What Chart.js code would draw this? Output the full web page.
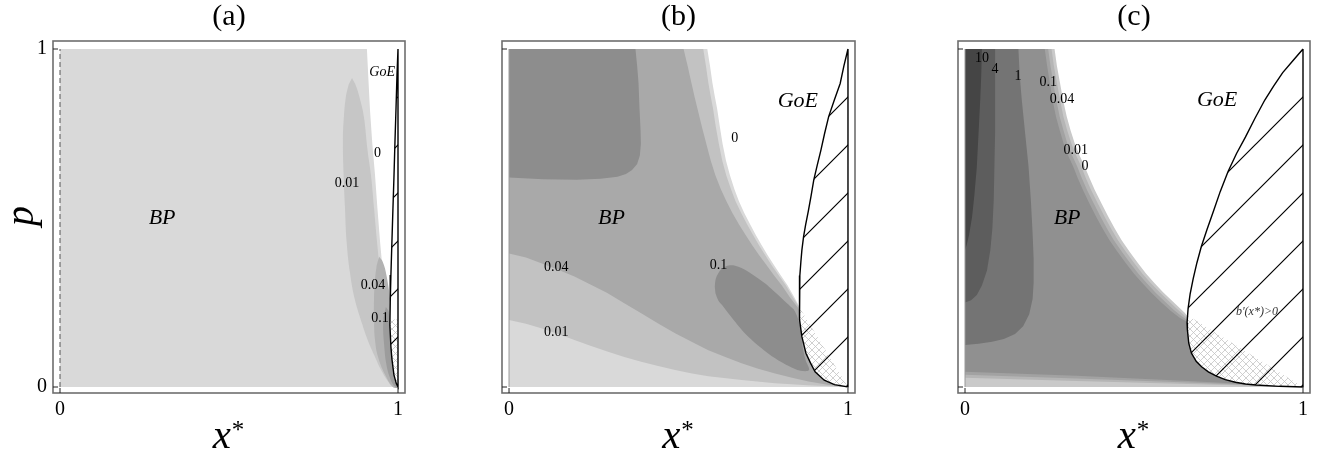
<!DOCTYPE html>
<html><head><meta charset="utf-8">
<script src="https://cdn.jsdelivr.net/npm/chart.js@4.4.0/dist/chart.umd.min.js"></script>
<style>
html,body{margin:0;padding:0;background:#fff;}
body{width:1323px;height:457px;position:relative;overflow:hidden;}
canvas{position:absolute;top:0;}
</style></head><body>
<canvas id="pa" width="441" height="457" style="left:0px"></canvas>
<canvas id="pb" width="441" height="457" style="left:441px"></canvas>
<canvas id="pc" width="441" height="457" style="left:882px"></canvas>
<script>
// ---------------- shared axis data ----------------
const TICK_VALUES = [0, 1];
const TICK_LABELS = ['0', '1'];
const PANEL_TITLES = ['(a)', '(b)', '(c)'];

// ---------------- panel (a) ----------------
const aEdge0 = [[0.908,1],[0.912,0.92],[0.917,0.822],[0.924,0.72],[0.932,0.627],[0.939,0.53],[0.947,0.429],[0.956,0.33],[0.967,0.231],[0.974,0.17],[0.982,0.109],[0.994,0.036],[1,0]];
const aEllipse001 = [[0.864,0.914],[0.876,0.89],[0.888,0.85],[0.899,0.80],[0.910,0.70],[0.920,0.627],[0.929,0.53],[0.938,0.429],[0.948,0.33],[0.959,0.231],[0.976,0.109],[0.994,0.021],[0.998,0.004],[0.985,0.0],[0.968,0.02],[0.950,0.05],[0.932,0.089],[0.91,0.14],[0.893,0.189],[0.872,0.26],[0.858,0.337],[0.848,0.43],[0.843,0.533],[0.839,0.63],[0.837,0.731],[0.840,0.80],[0.846,0.86],[0.854,0.895]];
const aEllipse004 = [[0.944,0.385],[0.955,0.37],[0.966,0.33],[0.978,0.25],[0.988,0.16],[0.996,0.06],[1,0],[0.985,0.0],[0.962,0.036],[0.941,0.089],[0.932,0.139],[0.929,0.2],[0.929,0.257],[0.932,0.32],[0.937,0.36]];
const aEllipse01 = [[0.964,0.237],[0.972,0.225],[0.98,0.19],[0.99,0.12],[1,0],[0.988,0.004],[0.975,0.03],[0.965,0.07],[0.959,0.124],[0.956,0.17],[0.957,0.205]];
const aGoE = [[1,1],[0.997,0.923],[0.994,0.82],[0.991,0.725],[0.988,0.62],[0.985,0.527],[0.982,0.43],[0.979,0.331],[0.977,0.25],[0.976,0.183],[0.979,0.12],[0.982,0.083],[0.988,0.036],[0.995,0.01],[1,0],[1,1]];
const aCross = [[0.977,0.2],[0.976,0.183],[0.979,0.12],[0.982,0.083],[0.988,0.036],[0.995,0.01],[1,0],[1,0.2]];
const aColors = ['#d9d9d9','#c6c6c6','#b2b2b2','#9c9c9c'];
const aLabelText = ['GoE','0','0.01','0.04','0.1','BP'];
const aLabelX = [0.953,0.939,0.849,0.926,0.947,0.302];
const aLabelY = [0.932,0.692,0.604,0.302,0.204,0.5];
const aLabelSize = [14,14,14,14,14,22];
const aLabelItalic = [1,0,0,0,0,1];

// ---------------- panel (b) ----------------
const bEdge0 = [[0.585,1],[0.593,0.95],[0.600,0.9],[0.607,0.86],[0.614,0.823],[0.622,0.77],[0.630,0.72],[0.640,0.67],[0.652,0.626],[0.665,0.585],[0.678,0.55],[0.694,0.515],[0.712,0.48],[0.728,0.45],[0.745,0.42],[0.763,0.39],[0.782,0.36],[0.802,0.33],[0.822,0.30],[0.842,0.265],[0.858,0.235]];
const bEdge001 = [[0.573,1],[0.581,0.95],[0.588,0.9],[0.595,0.86],[0.602,0.823],[0.610,0.77],[0.619,0.72],[0.629,0.67],[0.641,0.626],[0.655,0.585],[0.668,0.55],[0.685,0.515],[0.703,0.48],[0.720,0.45],[0.737,0.42],[0.756,0.39],[0.775,0.36],[0.796,0.33],[0.817,0.30],[0.838,0.265],[0.856,0.235]];
const bEdge004 = [[0.515,1],[0.527,0.95],[0.538,0.9],[0.547,0.86],[0.556,0.823],[0.569,0.77],[0.582,0.72],[0.595,0.67],[0.609,0.626],[0.625,0.585],[0.641,0.55],[0.659,0.515],[0.679,0.48],[0.698,0.45],[0.717,0.42],[0.738,0.39],[0.760,0.36],[0.782,0.33],[0.805,0.30],[0.829,0.265],[0.852,0.235]];
const bLine001 = [[0,0.198],[0.05,0.187],[0.095,0.174],[0.145,0.157],[0.193,0.139],[0.24,0.122],[0.29,0.105],[0.34,0.089],[0.39,0.075],[0.44,0.062],[0.49,0.05],[0.54,0.04],[0.588,0.032],[0.686,0.021],[0.785,0.011],[0.88,0.005],[1,0]];
const bLine004 = [[0,0.395],[0.05,0.383],[0.095,0.366],[0.145,0.347],[0.193,0.327],[0.24,0.303],[0.29,0.278],[0.34,0.248],[0.39,0.218],[0.44,0.188],[0.49,0.159],[0.54,0.133],[0.588,0.109],[0.64,0.088],[0.686,0.07],[0.735,0.054],[0.785,0.040],[0.835,0.027],[0.884,0.016],[0.94,0.007],[1,0]];
const bSquare01 = [[0,1],[0.373,1],[0.378,0.95],[0.382,0.9],[0.385,0.823],[0.388,0.76],[0.389,0.72],[0.386,0.685],[0.378,0.66],[0.363,0.642],[0.345,0.630],[0.32,0.622],[0.27,0.616],[0.2,0.613],[0.1,0.615],[0,0.62]];
const bEllipse01 = [[0.607,0.297],[0.610,0.32],[0.617,0.336],[0.627,0.349],[0.637,0.356],[0.652,0.360],[0.667,0.359],[0.686,0.352],[0.706,0.341],[0.730,0.325],[0.755,0.307],[0.780,0.285],[0.805,0.262],[0.825,0.243],[0.844,0.223],[0.859,0.178],[0.866,0.12],[0.875,0.08],[0.885,0.05],[0.86,0.048],[0.825,0.062],[0.785,0.085],[0.745,0.115],[0.706,0.149],[0.675,0.183],[0.647,0.218],[0.628,0.243],[0.617,0.257],[0.609,0.277]];
const bUnder = [[0.95,0.05],[1,0]];
const bGoE = [[1,1],[0.988,0.95],[0.977,0.898],[0.960,0.85],[0.943,0.8],[0.931,0.75],[0.92,0.7],[0.909,0.655],[0.899,0.612],[0.891,0.565],[0.883,0.52],[0.875,0.48],[0.869,0.445],[0.864,0.405],[0.861,0.37],[0.858,0.33],[0.857,0.3],[0.856,0.25],[0.858,0.2],[0.864,0.149],[0.876,0.1],[0.89,0.07],[0.903,0.045],[0.93,0.02],[0.96,0.007],[1,0],[1,1]];
const bCross = [[0.857,0.235],[0.856,0.25],[0.858,0.2],[0.864,0.149],[0.876,0.1],[0.89,0.07],[0.903,0.045],[0.93,0.02],[0.96,0.007],[1,0]];
const bColors = ['#d9d9d9','#c2c2c2','#a9a9a9','#8d8d8d'];
const bLabelText = ['GoE','0','BP','0.04','0.1','0.01'];
const bLabelX = [0.852,0.666,0.302,0.139,0.618,0.139];
const bLabelY = [0.846,0.737,0.5,0.355,0.361,0.163];
const bLabelSize = [22,14,22,14,14,14];
const bLabelItalic = [1,0,1,0,0,0];

// ---------------- panel (c) ----------------
const cEdge0 = [[0.265,1],[0.272,0.95],[0.281,0.9],[0.290,0.85],[0.301,0.8],[0.312,0.76],[0.325,0.72],[0.339,0.685],[0.354,0.652],[0.369,0.617],[0.384,0.583],[0.404,0.543],[0.424,0.504],[0.443,0.469],[0.463,0.435],[0.487,0.4],[0.512,0.366],[0.536,0.335],[0.561,0.307],[0.586,0.28],[0.611,0.257],[0.632,0.237],[0.65,0.22],[0.662,0.205]];
const cEdge001 = [[0.256,1],[0.263,0.95],[0.272,0.9],[0.281,0.85],[0.291,0.8],[0.302,0.76],[0.315,0.72],[0.329,0.685],[0.344,0.652],[0.358,0.617],[0.373,0.583],[0.393,0.543],[0.413,0.504],[0.432,0.469],[0.452,0.435],[0.476,0.4],[0.501,0.366],[0.525,0.335],[0.55,0.307],[0.576,0.28],[0.602,0.255],[0.625,0.233],[0.645,0.215],[0.662,0.2]];
const cEdge004 = [[0.246,1],[0.253,0.95],[0.261,0.9],[0.270,0.85],[0.280,0.8],[0.291,0.76],[0.303,0.72],[0.317,0.685],[0.332,0.652],[0.346,0.617],[0.361,0.583],[0.381,0.543],[0.401,0.504],[0.420,0.469],[0.440,0.435],[0.464,0.4],[0.489,0.366],[0.513,0.335],[0.538,0.307],[0.564,0.279],[0.592,0.252],[0.618,0.228],[0.64,0.21],[0.662,0.195]];
const cEdge01 = [[0.236,1],[0.243,0.95],[0.251,0.9],[0.259,0.85],[0.269,0.8],[0.280,0.76],[0.292,0.72],[0.305,0.685],[0.320,0.652],[0.334,0.617],[0.349,0.583],[0.368,0.543],[0.388,0.504],[0.407,0.469],[0.427,0.435],[0.451,0.4],[0.476,0.366],[0.500,0.335],[0.525,0.307],[0.552,0.278],[0.581,0.25],[0.61,0.224],[0.635,0.205],[0.662,0.19]];
const cBottom001 = [[0,0.027],[0.33,0.018],[0.66,0.009],[1,0]];
const cBottom004 = [[0,0.036],[0.33,0.025],[0.66,0.013],[1,0]];
const cBottom01 = [[0,0.045],[0.33,0.033],[0.66,0.018],[1,0]];
const cRegion1 = [[0,1],[0.158,1],[0.162,0.92],[0.168,0.849],[0.178,0.75],[0.188,0.652],[0.195,0.55],[0.2,0.455],[0.203,0.38],[0.203,0.307],[0.2,0.26],[0.19,0.215],[0.172,0.18],[0.148,0.157],[0.115,0.142],[0.08,0.134],[0.04,0.128],[0,0.124]];
const cRegion4 = [[0,1],[0.089,1],[0.089,0.85],[0.089,0.75],[0.087,0.65],[0.085,0.553],[0.081,0.47],[0.075,0.405],[0.065,0.345],[0.05,0.3],[0.035,0.272],[0.018,0.257],[0,0.25]];
const cRegion10 = [[0,1],[0.05,1],[0.048,0.92],[0.045,0.849],[0.04,0.75],[0.035,0.652],[0.028,0.57],[0.021,0.504],[0.012,0.45],[0.005,0.42],[0,0.405]];
const cUnder = [[0.8,0.05],[1,0]];
const cGoE = [[1,1],[0.97,0.965],[0.94,0.93],[0.913,0.89],[0.887,0.849],[0.858,0.795],[0.83,0.74],[0.803,0.69],[0.778,0.637],[0.755,0.578],[0.735,0.52],[0.716,0.466],[0.699,0.415],[0.686,0.367],[0.675,0.32],[0.666,0.275],[0.66,0.232],[0.657,0.19],[0.658,0.169],[0.662,0.13],[0.67,0.1],[0.684,0.076],[0.70,0.06],[0.72,0.045],[0.744,0.032],[0.77,0.022],[0.8,0.014],[0.83,0.009],[0.861,0.006],[0.93,0.002],[1,0],[1,1]];
const cCross = [[0.662,0.21],[0.657,0.19],[0.658,0.169],[0.662,0.13],[0.67,0.1],[0.684,0.076],[0.70,0.06],[0.72,0.045],[0.744,0.032],[0.77,0.022],[0.8,0.014],[0.83,0.009],[0.861,0.006],[0.93,0.002],[1,0]];
const cColors = ['#c9c9c9','#b5b5b5','#a2a2a2','#909090','#747474','#5d5d5d','#454545'];
const cLabelText = ['10','4','1','0.1','0.04','0.01','0','GoE','BP',"b'(x*)>0"];
const cLabelX = [0.050,0.089,0.157,0.246,0.287,0.328,0.355,0.746,0.302,0.864];
const cLabelY = [0.973,0.941,0.920,0.902,0.852,0.701,0.654,0.849,0.5,0.222];
const cLabelSize = [14,14,14,14,14,14,14,22,22,12];
const cLabelItalic = [0,0,0,0,0,0,0,1,1,1];

// ---------------- helpers ----------------
const FONT = '"Liberation Serif", "Times New Roman", serif';
const XMIN = -7/338, XMAX = 1 + 7/338, YMIN = -6/338, YMAX = 1 + 8/338;
const rev = a => a.slice().reverse();
const toXY = a => a.map(p => ({x: p[0], y: p[1]}));
let ord = 1000;
function area(points, color, extra) {
  return Object.assign({data: toXY(points), showLine: true, fill: 'shape', backgroundColor: color,
    borderColor: 'rgba(0,0,0,0)', borderWidth: 0, pointRadius: 0, pointHoverRadius: 0, pointHitRadius: 0,
    tension: 0, order: ord--}, extra || {});
}
function line(points, color, width, extra) {
  return Object.assign({data: toXY(points), showLine: true, fill: false, borderColor: color, borderWidth: width,
    pointRadius: 0, pointHoverRadius: 0, pointHitRadius: 0, tension: 0, order: ord--}, extra || {});
}
function makeHatch() {
  const c = document.createElement('canvas'); c.width = 48; c.height = 48;
  const g = c.getContext('2d'); g.strokeStyle = '#000'; g.lineWidth = 1.2;
  g.beginPath(); g.moveTo(-4, 52); g.lineTo(52, -4); g.moveTo(-4, 4); g.lineTo(4, -4); g.moveTo(44, 52); g.lineTo(52, 44); g.stroke();
  return g.createPattern(c, 'repeat');
}
function makeCross() {
  const c = document.createElement('canvas'); c.width = 7; c.height = 7;
  const g = c.getContext('2d'); g.strokeStyle = '#c4c4c4'; g.lineWidth = 0.8;
  g.beginPath(); g.moveTo(0, 0); g.lineTo(7, 7); g.moveTo(0, 7); g.lineTo(7, 0); g.stroke();
  return g.createPattern(c, 'repeat');
}
const DECO = {};
const deco = {
  id: 'deco',
  beforeDatasetsDraw(chart) {
    const d = DECO[chart.canvas.id];
    const px = chart.scales.x.getPixelForValue(1), py = chart.scales.y.getPixelForValue(1);
    const off = (((px + py) % 48) + 48) % 48;
    d.hatch.setTransform(new DOMMatrix([1, 0, 0, 1, off, 0]));
  },
  afterDatasetsDraw(chart) {
    const d = DECO[chart.canvas.id];
    const ctx = chart.ctx, xs = chart.scales.x, ys = chart.scales.y, a = chart.chartArea;
    ctx.save();
    ctx.textAlign = 'center'; ctx.textBaseline = 'middle';
    for (let i = 0; i < d.text.length; i++) {
      ctx.fillStyle = d.text[i].startsWith("b'") ? '#333' : '#000';
      ctx.font = (d.italic[i] ? 'italic ' : '') + d.size[i] + 'px ' + FONT;
      ctx.fillText(d.text[i], xs.getPixelForValue(d.x[i]), ys.getPixelForValue(d.y[i]));
    }
    // frame
    ctx.strokeStyle = '#6e6e6e'; ctx.lineWidth = 1.6;
    ctx.strokeRect(a.left, a.top, a.right - a.left, a.bottom - a.top);
    // inward frame ticks
    ctx.strokeStyle = '#222'; ctx.lineWidth = 1;
    ctx.beginPath();
    for (const v of TICK_VALUES) {
      const x = xs.getPixelForValue(v); ctx.moveTo(x, a.bottom); ctx.lineTo(x, a.bottom - 5);
      const y = ys.getPixelForValue(v); ctx.moveTo(a.left, y); ctx.lineTo(a.left + 5, y);
    }
    ctx.stroke();
    // title
    ctx.fillStyle = '#000';
    ctx.font = '30px ' + FONT;
    const cx = (a.left + a.right) / 2;
    ctx.fillText(d.title, cx, 17);
    // x axis title: x*
    ctx.textAlign = 'left'; ctx.textBaseline = 'alphabetic';
    ctx.font = 'italic 41px ' + FONT;
    const wx = ctx.measureText('x').width;
    ctx.font = '25px ' + FONT;
    const ws = ctx.measureText('*').width;
    const x0 = cx - (wx + ws) / 2 - 1;
    ctx.font = 'italic 41px ' + FONT; ctx.fillText('x', x0, 448);
    ctx.font = '25px ' + FONT; ctx.fillText('*', x0 + wx + 1, 438);
    if (d.ylabel) {
      ctx.save(); ctx.translate(22, 216); ctx.rotate(-Math.PI / 2);
      ctx.textAlign = 'center'; ctx.textBaseline = 'middle';
      ctx.font = 'italic 40px ' + FONT; ctx.fillText(d.ylabel, 0, 0);
      ctx.restore();
    }
    ctx.restore();
  }
};
function makeChart(id, datasets, left, right, showY, decoCfg) {
  DECO[id] = decoCfg;
  new Chart(document.getElementById(id), {
    type: 'scatter',
    data: {datasets},
    options: {
      responsive: false, animation: false, events: [],
      layout: {padding: {left: 0, top: 41, right: 441 - right, bottom: 0}},
      plugins: {legend: {display: false}, tooltip: {enabled: false}},
      scales: {
        x: {type: 'linear', min: XMIN, max: XMAX,
          afterBuildTicks: s => { s.ticks = TICK_VALUES.map(v => ({value: v})); },
          afterFit: s => { s.height = 64; },
          grid: {display: false, drawTicks: false}, border: {display: false},
          ticks: {color: '#000', font: {family: FONT, size: 20}, padding: 5, maxRotation: 0, autoSkip: false,
            callback: (v, i) => TICK_LABELS[i]}},
        y: {type: 'linear', min: YMIN, max: YMAX,
          afterBuildTicks: s => { s.ticks = TICK_VALUES.map(v => ({value: v})); },
          afterFit: s => { s.width = left; },
          grid: {display: false, drawTicks: false}, border: {display: false},
          ticks: {display: showY, color: '#000', font: {family: FONT, size: 20}, padding: 6, autoSkip: false,
            callback: (v, i) => TICK_LABELS[i]}}
      }
    },
    plugins: [deco]
  });
}

// ---------------- panel (a) chart ----------------
ord = 1000;
const hatchA = makeHatch(), crossA = makeCross();
makeChart('pa', [
  area([[0,0],[0,1]].concat(aEdge0), aColors[0]),
  area(aEllipse001, aColors[1], {tension: 0.4}),
  area(aEllipse004, aColors[2], {tension: 0.4}),
  area(aEllipse01, aColors[3], {tension: 0.4}),
  area(aGoE, '#ffffff'),
  area(aCross, crossA),
  area(aGoE, hatchA, {borderColor: '#000', borderWidth: 1.4}),
  line([[0,0],[0,1]], '#555', 1, {borderDash: [5, 3]})
], 53, 405, true, {title: PANEL_TITLES[0], ylabel: 'p', hatch: hatchA,
  text: aLabelText, x: aLabelX, y: aLabelY, size: aLabelSize, italic: aLabelItalic});

// ---------------- panel (b) chart ----------------
ord = 1000;
const hatchB = makeHatch(), crossB = makeCross();
makeChart('pb', [
  area([[0,0],[0,1]].concat(bEdge0, bUnder), bColors[0]),
  area([[0,1]].concat(bEdge001, bUnder, rev(bLine001)), bColors[1]),
  area([[0,1]].concat(bEdge004, bUnder, rev(bLine004)), bColors[2]),
  area(bSquare01, bColors[3]),
  area(bEllipse01, bColors[3], {tension: 0.35}),
  area(bGoE, '#ffffff'),
  area(bCross, crossB),
  area(bGoE, hatchB, {borderColor: '#000', borderWidth: 1.4}),
  line([[0,0],[0,1]], '#9a9a9a', 1)
], 61, 414, false, {title: PANEL_TITLES[1], ylabel: null, hatch: hatchB,
  text: bLabelText, x: bLabelX, y: bLabelY, size: bLabelSize, italic: bLabelItalic});

// ---------------- panel (c) chart ----------------
ord = 1000;
const hatchC = makeHatch(), crossC = makeCross();
makeChart('pc', [
  area([[0,0],[0,1]].concat(cEdge0, cUnder), cColors[0]),
  area([[0,1]].concat(cEdge001, cUnder, rev(cBottom001)), cColors[1]),
  area([[0,1]].concat(cEdge004, cUnder, rev(cBottom004)), cColors[2]),
  area([[0,1]].concat(cEdge01, cUnder, rev(cBottom01)), cColors[3]),
  area(cRegion1, cColors[4]),
  area(cRegion4, cColors[5]),
  area(cRegion10, cColors[6]),
  area(cGoE, '#ffffff'),
  area(cCross, crossC),
  area(cGoE, hatchC, {borderColor: '#000', borderWidth: 1.4}),
  line([[0,0],[0,1]], '#9a9a9a', 1)
], 76, 428, false, {title: PANEL_TITLES[2], ylabel: null, hatch: hatchC,
  text: cLabelText, x: cLabelX, y: cLabelY, size: cLabelSize, italic: cLabelItalic});
</script>
</body></html>
